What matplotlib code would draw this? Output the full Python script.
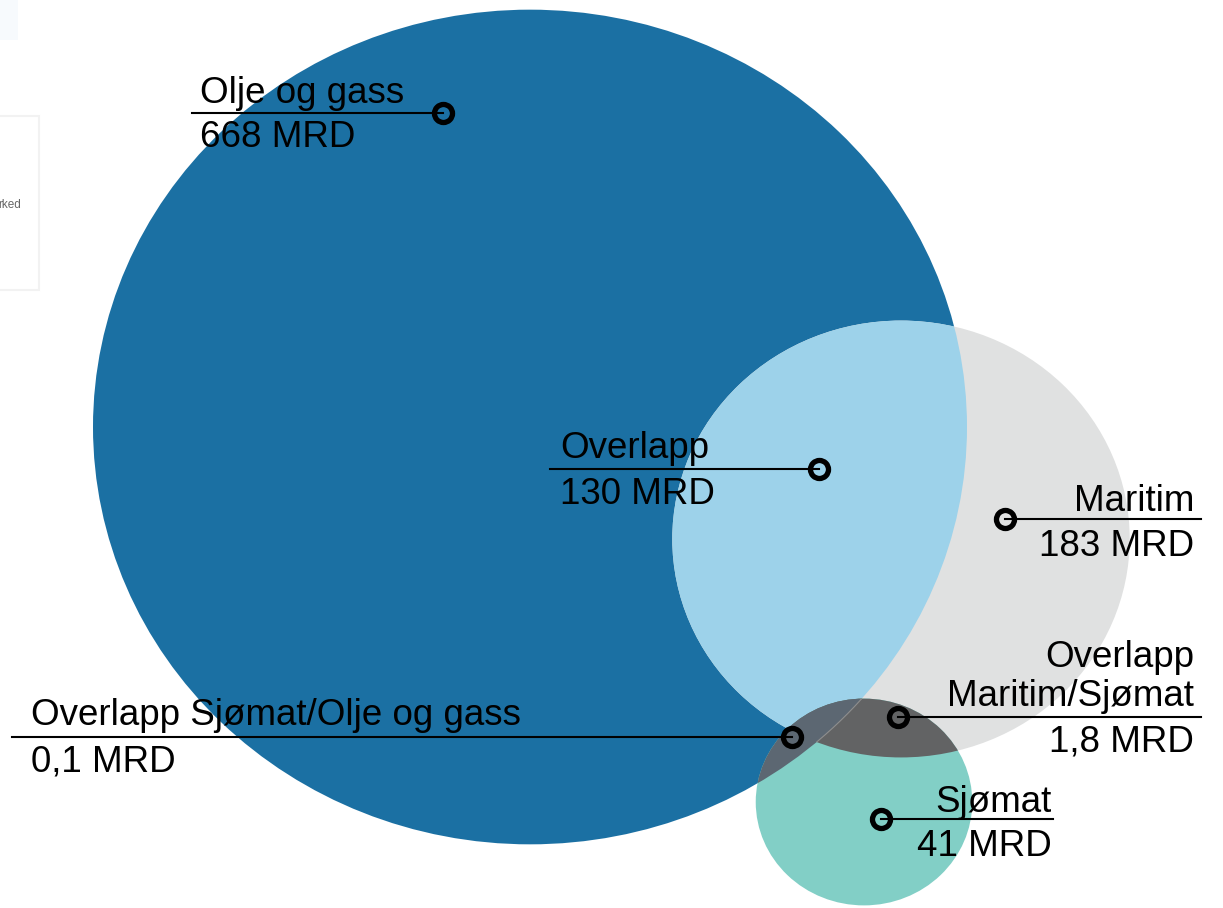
import matplotlib.pyplot as plt
from matplotlib.patches import Ellipse, Rectangle
import numpy as np

plt.rcParams['font.family'] = ['Liberation Sans', 'DejaVu Sans']

# sector sizes (MRD) - circle area follows the value
sectors = ['Olje og gass', 'Maritim', 'Sjømat']
sector_values = [668, 183, 41]
sector_labels = ['668 MRD', '183 MRD', '41 MRD']

overlaps = ['Overlapp', 'Overlapp\nMaritim/Sjømat', 'Overlapp Sjømat/Olje og gass']
overlap_values = [130, 1.8, 0.1]
overlap_labels = ['130 MRD', '1,8 MRD', '0,1 MRD']

# layout (pixel coords of the picture)
centers = [(530, 427), (901, 539), (864, 802)]
r_big = 437          # radius of the largest circle in px
squash = 0.955       # picture is slightly stretched horizontally
colors = {'olje': '#1b70a3', 'maritim': '#e0e1e1', 'sjomat': '#82cfc6',
          'olje_mar': '#9dd2ea', 'mar_sjo': '#626364', 'olje_sjo': '#5c6772'}

fig = plt.figure(figsize=(12.23, 9.08), dpi=100)
ax = fig.add_axes([0, 0, 1, 1])
ax.set_xlim(0, 1223)
ax.set_ylim(908, 0)
ax.axis('off')

radii = [r_big * np.sqrt(v / sector_values[0]) for v in sector_values]


def ell(i, color, z):
    (cx, cy), r = centers[i], radii[i]
    return Ellipse((cx, cy), 2 * r, 2 * r * squash, facecolor=color,
                   edgecolor='none', zorder=z, transform=ax.transData)


ax.add_patch(ell(0, colors['olje'], 1))
ax.add_patch(ell(1, colors['maritim'], 2))
p = ax.add_patch(ell(1, colors['olje_mar'], 3))
p.set_clip_path(ell(0, 'none', 0))
ax.add_patch(ell(2, colors['sjomat'], 4))
p = ax.add_patch(ell(2, colors['mar_sjo'], 5))
p.set_clip_path(ell(1, 'none', 0))
p = ax.add_patch(ell(2, colors['olje_sjo'], 6))
p.set_clip_path(ell(0, 'none', 0))


# faint seam of the big circle through the dark grey overlap
def inside(i, x, y):
    (cx, cy), r = centers[i], radii[i]
    return ((x - cx) / r) ** 2 + ((y - cy) / (r * squash)) ** 2 < 1


t = np.linspace(0, 2 * np.pi, 4000)
sx = centers[0][0] + radii[0] * np.cos(t)
sy = centers[0][1] + radii[0] * squash * np.sin(t)
m = inside(1, sx, sy) & inside(2, sx, sy)
sx[~m] = np.nan
ax.plot(sx, sy, color='#8e8e8e', lw=0.8, zorder=7)

# faint remnants of the page around the chart
ax.add_patch(Rectangle((-5, 116), 44, 174, facecolor='white', edgecolor='#f2f2f2', lw=1.5, zorder=0))
ax.add_patch(Rectangle((0, 0), 18, 40, facecolor='#f7fafd', edgecolor='none', zorder=0))
ax.text(-2, 205, 'rked', fontsize=8.5, color='#666666', ha='left', va='center', zorder=0)

# label callouts
fs = 26.5
callouts = [
    # (name, value text, marker xy, line end x, text x, ha, name baseline, value baseline)
    (sectors[0], sector_labels[0], (443, 113), 192, 200, 'left', 103, 147),
    (overlaps[0], overlap_labels[0], (819, 469), 550, 560, 'left', 458, 504),
    (sectors[1], sector_labels[1], (1005, 519), 1201, 1194, 'right', 511, 556),
    (overlaps[1], overlap_labels[1], (898, 717), 1201, 1194, 'right', 706, 751),
    (overlaps[2], overlap_labels[2], (792, 737), 12, 31, 'left', 725, 771),
    (sectors[2], sector_labels[2], (881, 819), 1053, 1052, 'right', 812, 856),
]
for name, val, (mx, my), lx, tx, ha, yb1, yb2 in callouts:
    ax.plot([lx, mx], [my, my], color='black', lw=1.5, zorder=8)
    ax.plot(mx, my, 'o', ms=13, mfc='none', mec='black', mew=3.8, zorder=9)
    ax.text(tx, yb1, name, fontsize=fs, ha=ha, va='baseline', linespacing=1.15, zorder=10)
    ax.text(tx, yb2, val, fontsize=fs, ha=ha, va='baseline', zorder=10)

fig.savefig('out.png', dpi=100)
